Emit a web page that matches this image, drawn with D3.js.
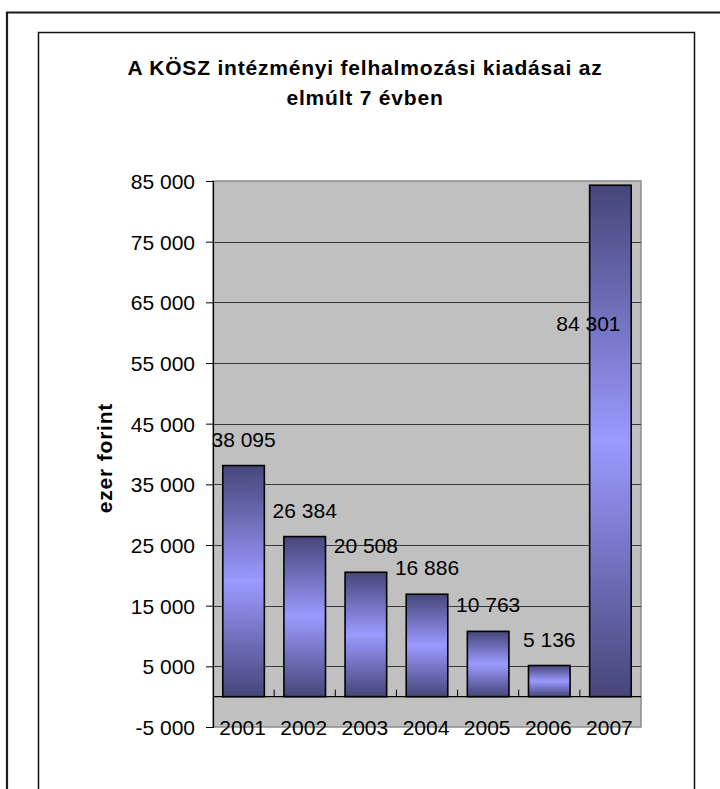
<!DOCTYPE html>
<html>
<head>
<meta charset="utf-8">
<script src="https://cdn.jsdelivr.net/npm/d3@7"></script>
<style>
  body { margin: 0; background: #fff; }
  text { font-family: Arial, "Liberation Sans", sans-serif; fill: #000; }
</style>
</head>
<body>
<div id="chart"></div>
<script>
// data
var years = ["2001", "2002", "2003", "2004", "2005", "2006", "2007"];
var values = [38095, 26384, 20508, 16886, 10763, 5136, 84301];
var yTicks = [-5000, 5000, 15000, 25000, 35000, 45000, 55000, 65000, 75000, 85000];
var titleLines = ["A KÖSZ intézményi felhalmozási kiadásai az", "elmúlt 7 évben"];
var yTitle = "ezer forint";

// layout
var W = 720, H = 789;
var plot = {left: 213, right: 641, top: 181, bottom: 727};

var svg = d3.select("#chart")
  .append("svg")
    .attr("width", W)
    .attr("height", H);

// outer + inner frames
svg.append("path")
  .attr("d", "M7,789 V12.5 H720")
  .attr("fill", "none")
  .attr("stroke", "#1a1a1a")
  .attr("stroke-width", 2.2);
svg.append("path")
  .attr("d", "M38.5,789 V32.5 H694.5 V789")
  .attr("fill", "none")
  .attr("stroke", "#111")
  .attr("stroke-width", 1.5);

// title
svg.append("g").selectAll("text")
  .data(titleLines)
  .join("text")
    .attr("x", 365)
    .attr("y", function(d, i) { return 75 + i * 30 })
    .attr("text-anchor", "middle")
    .attr("font-size", 21)
    .attr("font-weight", "bold")
    .attr("letter-spacing", 0.8)
    .text(function(d) { return d });

// scales
var x = d3.scaleBand()
  .domain(years)
  .range([plot.left, plot.right])
  .paddingInner(0.32)
  .paddingOuter(0.16);

var y = d3.scaleLinear()
  .domain([-5000, 85000])
  .range([plot.bottom, plot.top]);

var loc = d3.formatLocale({decimal: ",", thousands: " ", grouping: [3], currency: ["", ""], minus: "-"});
var fmt = loc.format(",d");

// plot area
svg.append("rect")
  .attr("x", plot.left)
  .attr("y", plot.top)
  .attr("width", plot.right - plot.left)
  .attr("height", plot.bottom - plot.top)
  .attr("fill", "#c0c0c0")
  .attr("stroke", "#8c8c8c")
  .attr("stroke-width", 1.5);

// gridlines
svg.append("g").selectAll("line")
  .data(yTicks.slice(1, -1))
  .join("line")
    .attr("x1", plot.left)
    .attr("x2", plot.right)
    .attr("y1", function(d) { return Math.round(y(d)) + 0.5 })
    .attr("y2", function(d) { return Math.round(y(d)) + 0.5 })
    .attr("stroke", "#3a3a3a")
    .attr("stroke-width", 1);

// bar gradient
var grad = svg.append("defs").append("linearGradient")
  .attr("id", "barGrad")
  .attr("x1", 0).attr("x2", 0).attr("y1", 0).attr("y2", 1);
grad.append("stop").attr("offset", "0%").attr("stop-color", "#46467a");
grad.append("stop").attr("offset", "50%").attr("stop-color", "#9a9aff");
grad.append("stop").attr("offset", "100%").attr("stop-color", "#46467a");

// bars
svg.append("g").selectAll("rect")
  .data(values)
  .join("rect")
    .attr("x", function(d, i) { return x(years[i]) })
    .attr("y", function(d) { return y(d) })
    .attr("width", x.bandwidth())
    .attr("height", function(d) { return y(0) - y(d) })
    .attr("fill", "url(#barGrad)")
    .attr("stroke", "#000")
    .attr("stroke-width", 1.6);

// category axis at 0
var xAxis = svg.append("g")
  .attr("transform", "translate(0," + y(0) + ")");
xAxis.append("line")
  .attr("x1", plot.left).attr("x2", plot.right)
  .attr("stroke", "#000").attr("stroke-width", 1.2);
xAxis.selectAll(".tk")
  .data(years.slice(1))
  .join("line")
    .attr("class", "tk")
    .attr("x1", function(d) { return x(d) - x.step() * x.paddingInner() / 2 })
    .attr("x2", function(d) { return x(d) - x.step() * x.paddingInner() / 2 })
    .attr("y1", -7).attr("y2", 0)
    .attr("stroke", "#000");

// category labels sit at the bottom of the plot
svg.append("g").selectAll("text")
  .data(years)
  .join("text")
    .attr("x", function(d) { return x(d) + x.bandwidth() / 2 - 1 })
    .attr("y", plot.bottom + 7.5)
    .attr("text-anchor", "middle")
    .attr("font-size", 21)
    .text(function(d) { return d });

// value axis
var yAxis = svg.append("g")
  .attr("transform", "translate(" + plot.left + ",0)")
  .call(d3.axisLeft(y).tickValues(yTicks).tickSize(7).tickPadding(11).tickFormat(fmt));
yAxis.select(".domain").attr("stroke", "#000").attr("stroke-width", 1.2);
yAxis.selectAll(".tick line").attr("stroke", "#000");
yAxis.selectAll(".tick text")
  .attr("font-size", 21)
  .attr("font-family", "Arial, 'Liberation Sans', sans-serif")
  .attr("dy", "0.36em");

// data labels (the 2007 one was dragged by hand in the original)
var labelShift = {6: [-22, 165]};
svg.append("g").selectAll("text")
  .data(values)
  .join("text")
    .attr("x", function(d, i) { return x(years[i]) + x.bandwidth() / 2 + (labelShift[i] ? labelShift[i][0] : 0) })
    .attr("y", function(d, i) { return y(d) - 19 + (labelShift[i] ? labelShift[i][1] : 0) })
    .attr("text-anchor", "middle")
    .attr("font-size", 21)
    .text(function(d) { return fmt(d) });

// y title
svg.append("text")
  .attr("transform", "translate(112,458) rotate(-90)")
  .attr("text-anchor", "middle")
  .attr("font-size", 21)
  .attr("font-weight", "bold")
  .attr("letter-spacing", 0.8)
  .text(yTitle);
</script>
</body>
</html>
